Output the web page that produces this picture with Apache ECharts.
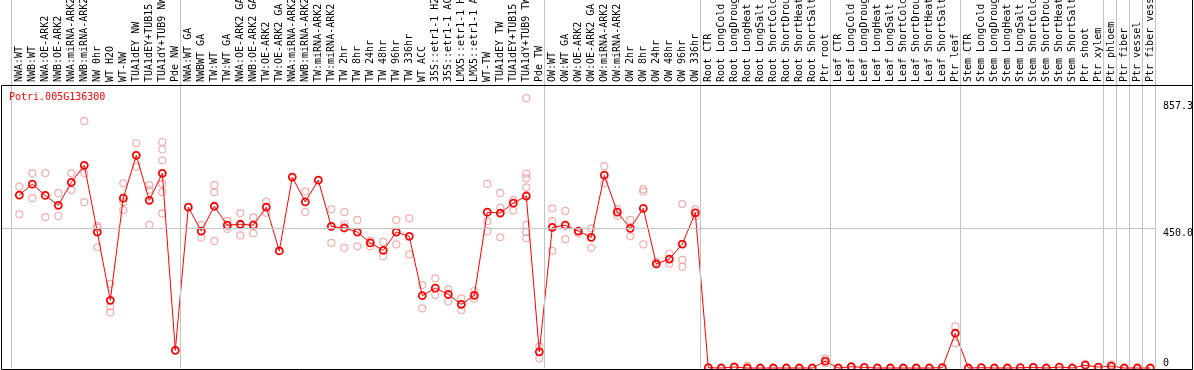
<!DOCTYPE html>
<html><head><meta charset="utf-8">
<script src="https://cdn.jsdelivr.net/npm/echarts@6/dist/echarts.min.js"></script>
<style>html,body{margin:0;padding:0;background:#fff}#c{width:1194px;height:370px}</style>
</head><body><div id="c"></div>
<script>
const geneName = 'Potri.005G136300';

const categories = [
  'NWA:WT','NWB:WT','NWA:OE-ARK2','NWB:OE-ARK2','NWA:miRNA-ARK2','NWB:miRNA-ARK2','NW 0hr','WT H2O','WT-NW','TUA1dEY NW','TUA1dEY+TUB15','TUA1dY+TUB9 NW','Pde NW',
  'NWA:WT GA','NWBWT GA','TW:WT','TW:WT GA','NWA:OE-ARK2 GA','NWB:OE-ARK2 GA','TW:OE-ARK2','TW:OE-ARK2 GA','NWA:miRNA-ARK2','NWB:miRNA-ARK2','TW:miRNA-ARK2','TW:miRNA-ARK2','TW 2hr','TW 8hr','TW 24hr','TW 48hr','TW 96hr','TW 336hr','WT ACC','35S::etr1-1 H2O','35S::etr1-1 ACC','LMX5::etr1-1 H2O','LMX5::etr1-1 ACC','WT-TW','TUA1dEY TW','TUA1dEY+TUB15','TUA1dY+TUB9 TW','Pde TW',
  'OW:WT','OW:WT GA','OW:OE-ARK2','OW:OE-ARK2 GA','OW:miRNA-ARK2','OW:miRNA-ARK2','OW 2hr','OW 8hr','OW 24hr','OW 48hr','OW 96hr','OW 336hr',
  'Root CTR','Root LongCold','Root LongDrought','Root LongHeat','Root LongSalt','Root ShortCold','Root ShortDrought','Root ShortHeat','Root ShortSalt','Ptr root',
  'Leaf CTR','Leaf LongCold','Leaf LongDrought','Leaf LongHeat','Leaf LongSalt','Leaf ShortCold','Leaf ShortDrought','Leaf ShortHeat','Leaf ShortSalt','Ptr leaf',
  'Stem CTR','Stem LongCold','Stem LongDrought','Stem LongHeat','Stem LongSalt','Stem ShortCold','Stem ShortDrought','Stem ShortHeat','Stem ShortSalt','Ptr shoot','Ptr xylem',
  'Ptr phloem','Ptr fiber','Ptr vessel','Ptr fiber vessel'
];

const groupSizes = [13, 28, 12, 10, 10, 11, 1, 1, 1, 1];

const means = [
  557,592,556,524,598,653,438,218,547,685,540,627,57,
  518,441,521,460,463,460,518,377,615,535,605,456,451,438,403,379,438,424,233,257,237,205,234,502,499,531,554,52,
  453,460,441,421,621,502,450,514,335,351,399,500,
  1,0,3,0,0,0,0,0,0,22,
  0,4,2,0,0,0,0,0,1,112,
  0,1,0,0,1,2,0,3,0,9,3,
  6,0,0,0
];

const replicates = [
  [584,495],[628,547],[628,486],[563,490],[628,573],[795,628,534],[458,452,389],[271,198,179],[595,534,509],[724,648],[589,573,461],[728,704,669,593,567,498],[],
  [],[461,420],[589,566,409],[474,448],[499,427],[485,434],[536,500],[],[],[569,502],[],[511,403],[502,463,387],[477,392],[410,392],[406,360],[477,398],[482,366],[267,192],[289,235],[253,214],[224,186],[248,223],[593,473,440],[564,516,421],[541,507],[869,626,611,582,461,438,418],[69,31],
  [514,473,377],[506,415],[434],[450,387],[650,594],[512,490],[477,424],[576,568,398],[342],[368,336],[528,348,326],[511,490],
  [],[],[5],[7],[],[],[],[],[],[30,15],
  [],[5],[],[],[],[],[],[],[],[134,80],
  [],[],[],[],[],[3],[],[],[],[13],[],
  [11],[],[],[]
];

const yTickValues = [857.3, 450, 0];
const yTickLabels = ['857.3', '450.0', '0'];

const FONT = '"DejaVu Sans Mono", monospace';
const X0 = 19.3, STEP = 13;
const gridLeftPx = 1, gridRightPx = 1155.3;
const xMin = (gridLeftPx - X0) / STEP, xMax = (gridRightPx - X0) / STEP;
const zeroPx = 368, px450 = 228.3;
const yMax = 450 * zeroPx / (zeroPx - px450);

const seps = [-0.65];
let acc = 0;
groupSizes.forEach(n => { acc += n; seps.push(acc - 1 + 5 / STEP); });

const repData = [];
replicates.forEach((arr, i) => arr.forEach(v => repData.push([i, v])));
const meanData = means.map((v, i) => [i, v]);

const chart = echarts.init(document.getElementById('c'), null, {renderer: 'canvas'});
chart.setOption({
  animation: false,
  backgroundColor: '#fff',
  grid: {left: gridLeftPx, top: 0, width: gridRightPx - gridLeftPx, height: zeroPx, containLabel: false, outerBoundsMode: 'none'},
  xAxis: {
    type: 'value', min: xMin, max: xMax, position: 'top', offset: -84,
    axisLine: {show: false}, axisTick: {show: false}, splitLine: {show: false},
    axisLabel: {
      customValues: categories.map((_, i) => i),
      formatter: v => categories[Math.round(v)],
      rotate: 90, margin: 2, fontFamily: FONT, fontSize: 10, color: '#000',
      showMinLabel: true, showMaxLabel: true
    }
  },
  yAxis: {type: 'value', min: 0, max: yMax, show: false},
  series: [
    {
      type: 'scatter', data: repData, symbol: 'circle', symbolSize: 7, z: 2,
      itemStyle: {color: 'rgba(0,0,0,0)', borderColor: '#f09a9a', borderWidth: 1.2},
      silent: true,
      markLine: {
        silent: true, symbol: 'none', animation: false,
        label: {show: false},
        lineStyle: {color: '#c4c4c4', width: 1, type: 'solid'},
        data: seps.map(x => ({xAxis: x})).concat([{yAxis: 450}])
      }
    },
    {
      type: 'line', data: meanData, symbol: 'circle', symbolSize: 7, z: 3,
      lineStyle: {color: '#ff0000', width: 1},
      itemStyle: {color: 'rgba(0,0,0,0)', borderColor: '#ff0000', borderWidth: 1.8},
      silent: true, clip: false
    }
  ]
});

const gfx = [];
gfx.push({type: 'rect', z: 100, silent: true,
  shape: {x: 1.5, y: 85.5, width: 1191, height: 284},
  style: {fill: 'none', stroke: '#000', lineWidth: 1}});
gfx.push({type: 'line', z: 100, silent: true,
  shape: {x1: 1192.5, y1: 0, x2: 1192.5, y2: 85.5},
  style: {stroke: '#000', lineWidth: 1}});
gfx.push({type: 'text', z: 101, silent: true, x: 9, y: 92,
  style: {text: geneName, fill: '#ff0000', font: '10px ' + FONT, align: 'left', verticalAlign: 'top'}});
yTickValues.forEach((v, k) => {
  const py = chart.convertToPixel({yAxisIndex: 0}, v);
  gfx.push({type: 'text', z: 101, silent: true, x: 1163, y: v === 0 ? py : py,
    style: {text: yTickLabels[k], fill: '#000', font: '10px ' + FONT, align: 'left', verticalAlign: v === 0 ? 'bottom' : 'top'}});
});
chart.setOption({graphic: gfx});
</script>
</body></html>
